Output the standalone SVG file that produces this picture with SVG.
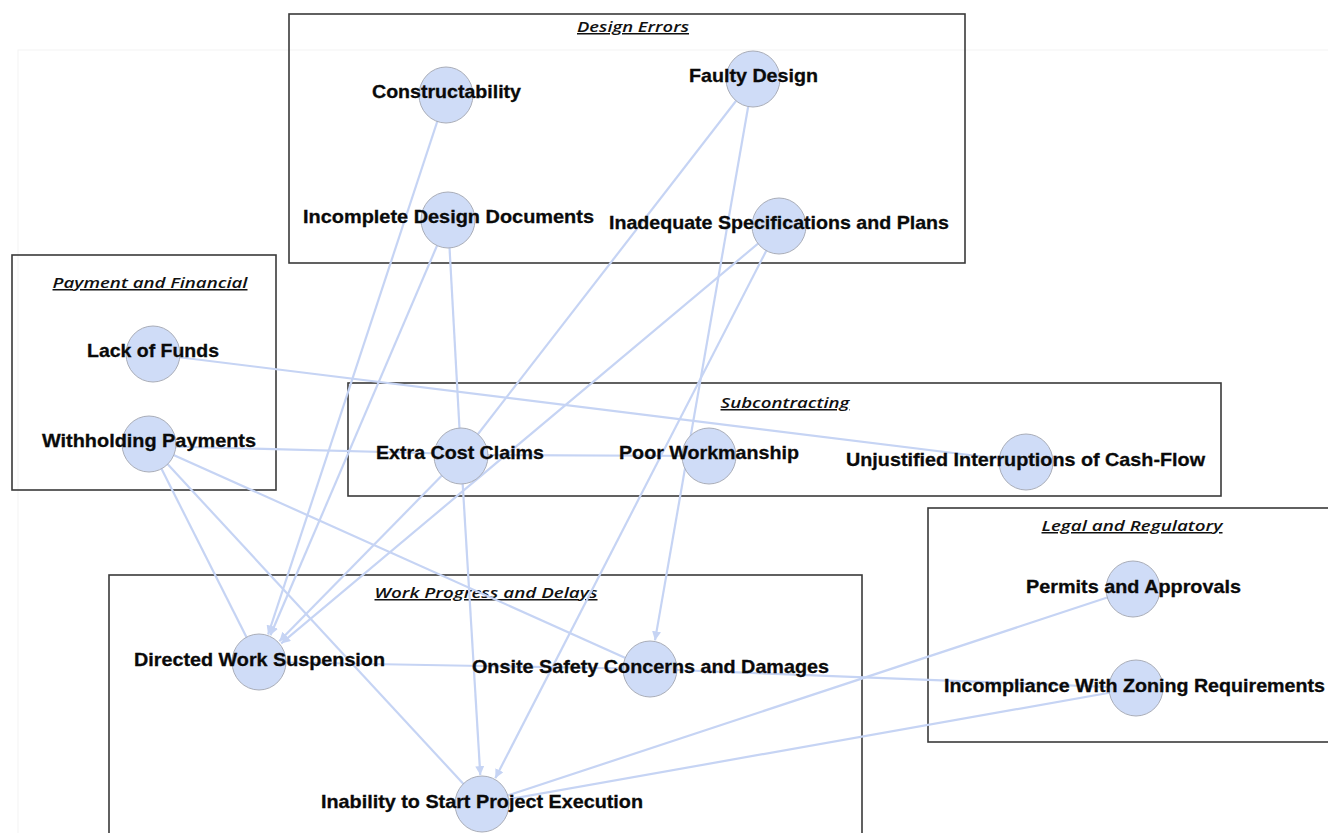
<svg xmlns="http://www.w3.org/2000/svg" width="1328" height="833" viewBox="0 0 1328 833">
<defs>
<style>
.box{fill:none;stroke:#3a3a3a;stroke-width:1.6}
.title{font-family:"Open Sans","Liberation Sans",Arial,sans-serif;font-style:italic;font-weight:600;font-size:15px;fill:#111;text-decoration:underline}
.edge{stroke:#c6d4f4;stroke-width:2.2;fill:none}
.arr{marker-end:url(#ah)}
.node{fill:#cfdcf7;stroke:#a9adb8;stroke-width:1}
.lbl{font-family:"Liberation Sans",Arial,sans-serif;font-weight:bold;font-size:19px;fill:#0a0a0a;stroke:#0a0a0a;stroke-width:0.3;text-anchor:middle}
</style>
<marker id="ah" viewBox="0 0 10 10" refX="10" refY="5" markerWidth="9" markerHeight="9" markerUnits="userSpaceOnUse" orient="auto">
<path d="M0,0 L10,5 L0,10 z" fill="#c6d4f4"/>
</marker>
</defs>
<rect width="1328" height="833" fill="#ffffff"/>
<rect x="18" y="50" width="1320" height="800" fill="none" stroke="#f3f3f3" stroke-width="1"/>

<g id="groups">
<g id="group-design-errors">
<rect class="box" x="289" y="14" width="676" height="249"/>
<text class="title" x="633" y="32" text-anchor="middle" textLength="112" lengthAdjust="spacingAndGlyphs">Design Errors</text>
</g>
<g id="group-payment">
<rect class="box" x="12" y="255" width="264" height="235"/>
<text class="title" x="150" y="288" text-anchor="middle" textLength="195" lengthAdjust="spacingAndGlyphs">Payment and Financial</text>
</g>
<g id="group-subcontracting">
<rect class="box" x="348" y="383" width="873" height="113"/>
<text class="title" x="785" y="408" text-anchor="middle" textLength="129" lengthAdjust="spacingAndGlyphs">Subcontracting</text>
</g>
<g id="group-legal">
<rect class="box" x="928" y="508" width="410" height="234"/>
<text class="title" x="1132" y="531" text-anchor="middle" textLength="181" lengthAdjust="spacingAndGlyphs">Legal and Regulatory</text>
</g>
<g id="group-work">
<rect class="box" x="109" y="575" width="753" height="270"/>
<text class="title" x="486" y="598" text-anchor="middle" textLength="223" lengthAdjust="spacingAndGlyphs">Work Progress and Delays</text>
</g>
</g>

<g id="connectors">
<line class="edge arr" x1="446" y1="95" x2="268.1" y2="634.5"/>
<line class="edge arr" x1="448" y1="220" x2="270.4" y2="635.3"/>
<line class="edge" x1="448" y1="220" x2="461" y2="456"/>
<line class="edge" x1="753" y1="79" x2="461" y2="456"/>
<line class="edge arr" x1="753" y1="79" x2="655" y2="640.4"/>
<line class="edge arr" x1="779" y1="226" x2="281.2" y2="643.4"/>
<line class="edge arr" x1="779" y1="226" x2="495.3" y2="778.2"/>
<line class="edge" x1="153" y1="354" x2="1026" y2="462"/>
<line class="edge" x1="149" y1="446" x2="461" y2="454" stroke-width="3"/>
<line class="edge" x1="461" y1="455" x2="709" y2="456"/>
<line class="edge" x1="149" y1="444" x2="259" y2="662"/>
<line class="edge" x1="149" y1="444" x2="482" y2="804"/>
<line class="edge" x1="149" y1="444" x2="650" y2="669"/>
<line class="edge arr" x1="461" y1="456" x2="279.3" y2="641.3"/>
<line class="edge arr" x1="461" y1="456" x2="480.3" y2="775.1"/>
<line class="edge" x1="259" y1="662" x2="650" y2="669"/>
<line class="edge" x1="650" y1="669" x2="1136" y2="688"/>
<line class="edge" x1="1133" y1="589" x2="482" y2="804"/>
<line class="edge" x1="1136" y1="688" x2="482" y2="804"/>
</g>

<g id="node-constructability"><ellipse class="node" cx="446" cy="95" rx="27" ry="28"/><text class="lbl" x="446.5" y="98" textLength="149" lengthAdjust="spacingAndGlyphs">Constructability</text></g>
<g id="node-faulty-design"><ellipse class="node" cx="753" cy="79" rx="27" ry="28"/><text class="lbl" x="753.5" y="82" textLength="129" lengthAdjust="spacingAndGlyphs">Faulty Design</text></g>
<g id="node-incomplete-design"><ellipse class="node" cx="448" cy="220" rx="27" ry="28"/><text class="lbl" x="448.5" y="223" textLength="291" lengthAdjust="spacingAndGlyphs">Incomplete Design Documents</text></g>
<g id="node-inadequate-specs"><ellipse class="node" cx="779" cy="226" rx="27" ry="28"/><text class="lbl" x="779" y="229" textLength="340" lengthAdjust="spacingAndGlyphs">Inadequate Specifications and Plans</text></g>
<g id="node-lack-of-funds"><ellipse class="node" cx="153" cy="354" rx="27" ry="28"/><text class="lbl" x="153" y="357" textLength="132" lengthAdjust="spacingAndGlyphs">Lack of Funds</text></g>
<g id="node-withholding-payments"><ellipse class="node" cx="149" cy="444" rx="27" ry="28"/><text class="lbl" x="149" y="447" textLength="214" lengthAdjust="spacingAndGlyphs">Withholding Payments</text></g>
<g id="node-extra-cost-claims"><ellipse class="node" cx="461" cy="456" rx="27" ry="28"/><text class="lbl" x="460" y="459" textLength="168" lengthAdjust="spacingAndGlyphs">Extra Cost Claims</text></g>
<g id="node-poor-workmanship"><ellipse class="node" cx="709" cy="456" rx="27" ry="28"/><text class="lbl" x="709" y="459" textLength="180" lengthAdjust="spacingAndGlyphs">Poor Workmanship</text></g>
<g id="node-unjustified-interruptions"><ellipse class="node" cx="1026" cy="462" rx="27" ry="28"/><text class="lbl" x="1025.5" y="466" textLength="359" lengthAdjust="spacingAndGlyphs">Unjustified Interruptions of Cash-Flow</text></g>
<g id="node-permits"><ellipse class="node" cx="1133" cy="589" rx="27" ry="28"/><text class="lbl" x="1133.5" y="593" textLength="215" lengthAdjust="spacingAndGlyphs">Permits and Approvals</text></g>
<g id="node-incompliance"><ellipse class="node" cx="1136" cy="688" rx="27" ry="28"/><text class="lbl" x="1134.5" y="692" textLength="381" lengthAdjust="spacingAndGlyphs">Incompliance With Zoning Requirements</text></g>
<g id="node-directed-work-suspension"><ellipse class="node" cx="259" cy="662" rx="27" ry="28"/><text class="lbl" x="259.5" y="666" textLength="251" lengthAdjust="spacingAndGlyphs">Directed Work Suspension</text></g>
<g id="node-onsite-safety"><ellipse class="node" cx="650" cy="669" rx="27" ry="28"/><text class="lbl" x="650.5" y="673" textLength="357" lengthAdjust="spacingAndGlyphs">Onsite Safety Concerns and Damages</text></g>
<g id="node-inability"><ellipse class="node" cx="482" cy="804" rx="27" ry="28"/><text class="lbl" x="482" y="808" textLength="322" lengthAdjust="spacingAndGlyphs">Inability to Start Project Execution</text></g>
</svg>
